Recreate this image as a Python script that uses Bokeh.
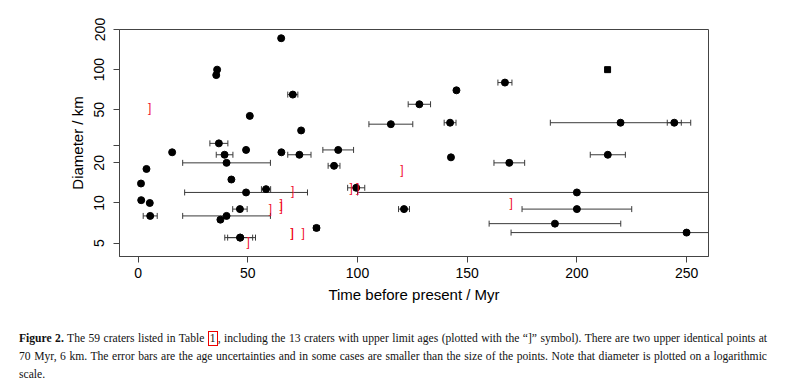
import math
from bokeh.plotting import figure
from bokeh.models import Range1d, FixedTicker, ColumnDataSource, Div
from bokeh.layouts import column
from bokeh.core.properties import value
from bokeh.embed import file_html
from bokeh.resources import INLINE

# ---- data: craters with measured ages (age / Myr, diameter / km, age error / Myr)
age = [65.2, 36.0, 35.6, 70.5, 50.9, 74.3, 115.2, 36.8, 15.5, 49.2,
       39.4, 65.3, 73.5, 91.2, 40.3, 89.3, 3.8, 1.3, 42.5, 58.3,
       49.2, 99.4, 1.4, 5.3, 46.4, 5.5, 40.3, 37.5, 81.3, 46.5,
       46.5, 214.0, 167.2, 145.1, 128.2, 142.2, 219.9, 244.4, 142.6, 214.1,
       169.2, 200.0, 121.2, 200.0, 190.0, 250.0]
diam = [172, 100, 91, 65, 45, 35, 39, 28, 24, 25,
        23, 24, 23, 25, 20, 19, 18, 14, 15, 12.7,
        12, 13, 10.5, 10, 9, 8, 8, 7.5, 6.5, 5.5,
        5.5, 100, 80, 70, 55, 40, 40, 40, 22, 23,
        20, 12, 9, 9, 7, 6]
age_err = [0, 0, 0, 2.3, 0, 0, 10, 4.1, 0, 0,
           3.8, 0, 5.3, 7, 20, 2.7, 0, 0, 0, 2.1,
           28, 3.9, 0, 0, 3.3, 3.2, 20, 0, 1.3, 7,
           5.7, 0, 3.2, 0, 5.1, 2.7, 32, 3.2, 0, 8,
           7, 100, 2.5, 25, 30, 80]
marker = ["circle"] * 31 + ["square"] + ["circle"] * 14

# ---- data: craters with upper-limit ages (plotted with "]")
ul_age = [5.2, 70.4, 97.1, 100.1, 65.2, 65.2, 60.3, 70.2, 70.2, 75.2, 50.2, 120.2, 170.1]
ul_diam = [52, 12.2, 13, 13, 9.4, 9.9, 9.0, 6.0, 6.0, 6.0, 5.1, 17.8, 10.0]

x_ticks = [0, 50, 100, 150, 200, 250]
y_ticks = [5, 10, 20, 27, 50, 100, 200]
y_tick_labels = {5: "5", 10: "10", 20: "20", 27: "", 50: "50", 100: "100", 200: "200"}

AXIS = "#444444"
BAR = "#3a3a3a"
RED = "#f01030"
FONT = "Liberation Sans"

p = figure(width=769, height=312,
           x_range=Range1d(-8.5, 260), y_range=Range1d(3.97, 200),
           y_axis_type="log", output_backend="svg", toolbar_location=None,
           min_border_left=119, min_border_right=61,
           min_border_top=29, min_border_bottom=56)
p.grid.visible = False
p.outline_line_color = AXIS
p.outline_line_width = 1
p.background_fill_color = "white"
p.border_fill_color = "white"

# error bars
bx0, bx1, by = [], [], []
for a, d, e in zip(age, diam, age_err):
    if e > 0:
        bx0.append(a - e)
        bx1.append(a + e)
        by.append(d)
bars = ColumnDataSource(dict(x0=bx0, x1=bx1, y=by))
p.segment(x0="x0", y0="y", x1="x1", y1="y", source=bars, line_color=BAR, line_width=1)
p.scatter(x="x0", y="y", source=bars, marker="dash", angle=math.pi / 2, size=6,
          line_color=BAR, line_width=1)
p.scatter(x="x1", y="y", source=bars, marker="dash", angle=math.pi / 2, size=6,
          line_color=BAR, line_width=1)

sizes = [6 if m == "square" else 7 for m in marker]
pts = ColumnDataSource(dict(x=age, y=diam, m=marker, s=sizes))
p.scatter(x="x", y="y", marker="m", size="s", source=pts,
          fill_color="black", line_color="black")

ul = ColumnDataSource(dict(x=ul_age, y=ul_diam, t=["]"] * len(ul_age)))
p.text(x="x", y="y", text="t", source=ul, text_font=value(FONT),
       text_font_size="12px", text_color=RED, text_align="center",
       text_baseline="middle")

# axes
for ax in (p.xaxis[0], p.yaxis[0]):
    ax.axis_line_color = AXIS
    ax.major_tick_line_color = AXIS
    ax.minor_tick_line_color = None
    ax.major_tick_out = 6
    ax.major_tick_in = 0
    ax.major_label_text_font = FONT
    ax.major_label_text_font_size = "14px"
    ax.major_label_text_color = "black"
    ax.axis_label_text_font = FONT
    ax.axis_label_text_font_size = "15px"
    ax.axis_label_text_font_style = "normal"
    ax.axis_label_text_color = "black"

p.xaxis.ticker = FixedTicker(ticks=x_ticks)
p.xaxis.axis_label = "Time before present / Myr"
p.xaxis.major_label_standoff = 5
p.xaxis.axis_label_standoff = 5

p.yaxis.ticker = FixedTicker(ticks=y_ticks)
p.yaxis.major_label_overrides = y_tick_labels
p.yaxis.major_label_orientation = "vertical"
p.yaxis.axis_label = "Diameter / km"
p.yaxis.major_label_standoff = 9
p.yaxis.axis_label_standoff = 6

caption_html = (
    '<div style="font-family:\'Liberation Serif\',\'Times New Roman\',serif;'
    'font-size:11.6px;line-height:18px;text-align:justify;color:#111;">'
    '<b>Figure 2.</b> The 59 craters listed in Table '
    '<span style="border:1px solid #e00;padding:0 1px;">1</span>, including the 13 craters '
    'with upper limit ages (plotted with the \u201c]\u201d symbol). There are two upper '
    'identical points at 70&nbsp;Myr, 6&nbsp;km. The error bars are the age uncertainties '
    'and in some cases are smaller than the size of the points. Note that diameter is '
    'plotted on a logarithmic scale.</div>'
)
caption = Div(text=caption_html, width=748, margin=(18, 0, 0, 19))

layout = column(p, caption, spacing=0)
open("out.html", "w").write(file_html(layout, INLINE))
